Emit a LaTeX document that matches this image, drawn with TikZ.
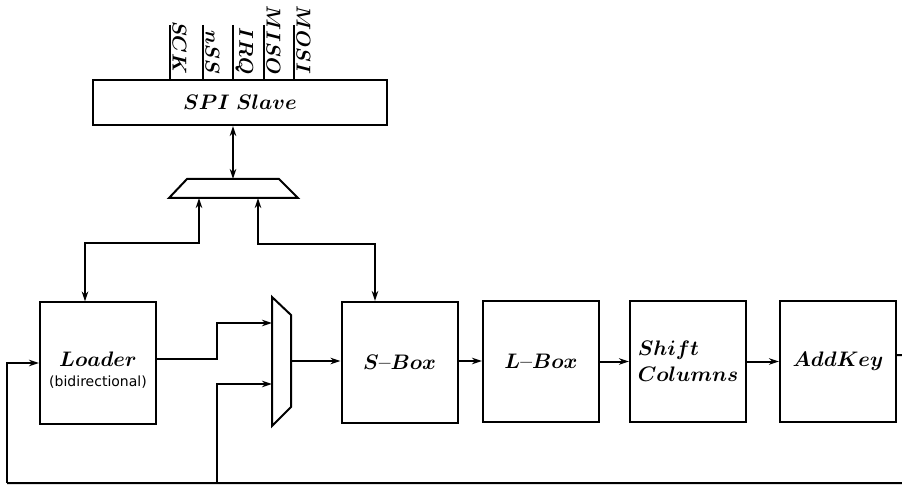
\RequirePackage{fix-cm}
\documentclass[tikz,border=0pt]{standalone}
\usepackage{fontspec}
\usepackage{bm}
\usetikzlibrary{arrows.meta}
\newfontfamily\dejavu{DejaVu Sans}

\begin{document}
\begin{tikzpicture}[x=1pt, y=-1pt, line width=2pt,
  big/.style={font=\fontsize{21}{26}\selectfont},
  blk/.style={draw, minimum width=116pt, minimum height=121pt, inner sep=0pt, big},
  sig/.style={rotate=-90, anchor=south east, inner sep=1.5pt,
              font=\fontsize{20}{24}\selectfont},
  tip/.style={-{Stealth[length=10pt,width=6.5pt]}},
  both/.style={{Stealth[length=10pt,width=6.5pt]}-{Stealth[length=10pt,width=6.5pt]}}]

  \path[use as bounding box, clip] (0,0) rectangle (902,486);

  % SPI slave interface with its pins
  \node[draw, minimum width=294pt, minimum height=45pt, inner sep=0pt, big]
    (spi) at (240,102.5) {$\bm{SPI\ Slave}$};
  \foreach \px/\lbl [count=\i] in {170/SCK, 203/nSS, 233/IRQ, 264/MISO, 294/MOSI} {
    \coordinate (pin\i) at (\px,25);
    \draw (pin\i) -- (pin\i |- spi.north);
    \node[sig] (lbl\i) at (\px,77) {$\bm{\lbl}$};
  }

  % bus multiplexer under the SPI slave
  \draw (187,179) -- (279,179) -- (298,198) -- (169,198) -- cycle;
  \coordinate (dmxT) at (233,179);
  \coordinate (dmxL) at (199,198);
  \coordinate (dmxR) at (258,198);

  % datapath blocks
  \node[blk] (loader) at (98,363) {};
  \node[big, inner sep=0pt] (ldtxt) at (98,359) {$\bm{Loader}$};
  \node[inner sep=0pt, font=\dejavu\fontsize{14}{16}\selectfont] (ldsub) at (98,382) {(bidirectional)};
  \node[blk] (sbox) at (399.5,362.5) {$\bm{S}$\textbf{--}$\bm{Box}$};
  \node[blk] (lbox) at (541,361.5) {$\bm{L}$\textbf{--}$\bm{Box}$};
  \node[blk, align=left] (shift) at (688,361.5) {$\bm{Shift}$\\$\bm{Columns}$};
  \node[blk] (addkey) at (838,361.5) {$\bm{AddKey}$};

  % input multiplexer
  \draw (272,297) -- (291,315) -- (291,407) -- (272,426) -- cycle;
  \coordinate (muxA) at (272,323);
  \coordinate (muxB) at (272,384);
  \coordinate (muxO) at (291,361);

  % connections
  \draw[both] (spi.south -| dmxT) -- (dmxT);
  \draw[both] ([xshift=-13pt]loader.north) -- ++(0,-58) -| (dmxL);
  \draw[both] ([xshift=-24.5pt]sbox.north) -- ++(0,-57) -| (dmxR);

  \draw[tip] ([yshift=4pt]loader.east) -- (217,359) -- (217,323) -- (muxA);
  \draw[tip] (muxO) -- (muxO -| sbox.west);
  \draw[tip] (sbox.east |- 0,361) -- (lbox.west |- 0,361);
  \draw[tip] (lbox) -- (shift);
  \draw[tip] (shift) -- (addkey);

  % feedback loop
  \coordinate (fbR) at (920,483);
  \coordinate (fbL) at (7,483);
  \coordinate (fbJ) at (217,483);
  \draw ([yshift=6.5pt]addkey.east) -- ++(30,0) -- (fbR) -- (fbL);
  \draw[tip] (fbL) |- (loader.west);
  \draw[tip] (fbJ) -- (217,384) -- (muxB);
\end{tikzpicture}
\end{document}
